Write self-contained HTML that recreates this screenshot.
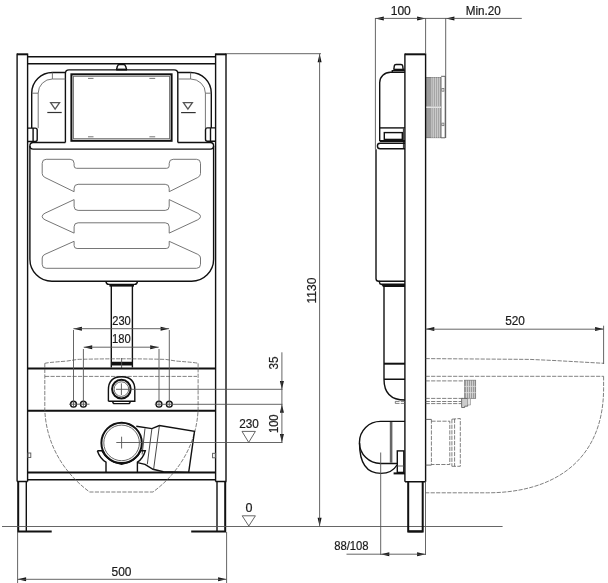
<!DOCTYPE html>
<html><head><meta charset="utf-8"><title>Drawing</title>
<style>
html,body{margin:0;padding:0;background:#fff;}
body{width:608px;height:583px;overflow:hidden;}
svg{display:block;will-change:transform;}
text{font-family:"Liberation Sans",sans-serif;font-size:12px;fill:#1a1a1a;stroke:#1a1a1a;stroke-width:0.2;}
.k{stroke:#111;fill:none;stroke-width:1.4;}
.kk{stroke:#111;fill:none;stroke-width:2;}
.t{stroke:#555;fill:none;stroke-width:0.9;}
.g{stroke:#666;fill:none;stroke-width:0.9;}
.d{stroke:#555;fill:none;stroke-width:0.75;stroke-dasharray:4.2 1.3;}
.ar{fill:#111;stroke:none;}
</style></head>
<body>
<svg width="608" height="583" viewBox="0 0 608 583">
<!-- ================= FRONT VIEW ================= -->
<g id="front">
<!-- posts -->
<path class="k" d="M17.1,53.5V481.5M27.6,53.5V481.5M17,481.5H27.6"/>
<path class="kk" d="M17,54.3H27.5"/>
<path class="k" d="M215.6,53.5V481.5M226,53.5V481.5M215.5,481.5H226.5"/>
<path class="kk" d="M215.5,54.3H226.5"/>
<!-- legs -->
<path class="kk" d="M18.2,481.5V531.5H51.7"/>
<path class="k" d="M26.3,481.5V531" stroke-width="1.2"/>
<path class="kk" d="M225.2,481.5V531.5H191.2"/>
<path class="k" d="M217,481.5V531" stroke-width="1.2"/>
<!-- top bar -->
<path class="k" d="M27,56.7H215.8M27,63.7H215.8"/>
<!-- bump -->
<path class="k" d="M116.4,69.9L117.4,66.3Q117.8,64.5 119.6,64.5H123.4Q125.2,64.5 125.6,66.3L126.8,69.9" stroke-width="1.6"/>
<path class="kk" d="M116.2,69.6H127" stroke-width="1.4"/>
<!-- flush plate frame -->
<path class="k" d="M65.4,142.5V73.5Q65.4,69.9 69,69.9H174.1Q177.8,69.9 177.8,73.5V142.5"/>
<rect class="kk" x="71.4" y="74.3" width="100.2" height="66.5" stroke-width="1.7"/>
<rect class="g" x="73.4" y="76.3" width="96.2" height="62.4" stroke-width="1"/>
<path class="g" d="M88,78.4H93.5M149.4,78.4H155.2M88,136.8H93.5M149.4,136.8H155.2" stroke-width="1.3"/>
<!-- left L pipe -->
<path class="k" d="M31.7,128.1V93.2A20.7,20.7 0 0 1 52.4,72.5H65.4"/>
<path class="g" d="M38.2,128.1V93.2A14.2,14.2 0 0 1 52.4,79H65.4M52.4,72.5V79M31.7,93.2H38.2"/>
<path class="k" d="M27.6,128.1H35.2Q37.2,128.1 37.2,130.1V139.5Q37.2,141.5 35.2,141.5H27.6M33.1,128.1V141.5" stroke-width="1.2"/>
<!-- right L pipe -->
<path class="k" d="M211.3,128V93.2A20.7,20.7 0 0 0 190.6,72.5H177.8"/>
<path class="g" d="M205.4,128V93.2A14.8,14.2 0 0 0 190.6,79H177.8M190.6,72.5V79M211.3,93.2H205.4"/>
<path class="k" d="M215.3,127.9H207.5Q205.5,127.9 205.5,129.9V139.2Q205.5,141.2 207.5,141.2H215.3M210.5,127.9V141.2" stroke-width="1.2"/>
<!-- triangles -->
<path d="M50.6,102.7H59.6L55.1,109.2Z" stroke="#555" fill="none" stroke-width="1.3"/>
<path d="M47.3,112.5H61.7" stroke="#333" stroke-width="1.2"/>
<path d="M183.4,102.7H192.4L187.9,109.2Z" stroke="#555" fill="none" stroke-width="1.3"/>
<path d="M181.1,112.6H195.7" stroke="#333" stroke-width="1.2"/>
<!-- bar & cistern -->
<path class="k" d="M65.4,142.5H33.2A3.3,3.3 0 0 0 33.2,149.1H210.3A3.3,3.3 0 0 0 210.3,142.5H177.8"/>
<path class="k" d="M29.9,146V259.3A22,22 0 0 0 51.9,281.3H191.6A22,22 0 0 0 213.6,259.3V146" stroke-width="1.5"/>
<!-- arrows in cistern -->
<g class="g">
<path d="M74.1,191.7L45,177.5Q42.2,176.2 42.2,173.5V163.3Q42.2,159.3 46.2,159.3H70.1Q74.1,159.3 74.1,163.3V165.8Q74.1,168.3 76.6,168.3H166.7Q169.2,168.3 169.2,165.8V163.3Q169.2,159.3 173.2,159.3H196.5Q200.5,159.3 200.5,163.3V173.5Q200.5,176.2 197.7,177.5L169.2,191.7"/>
<path d="M74.1,191.7V188.3Q74.1,184.3 78.1,184.3H165.2Q169.2,184.3 169.2,188.3V191.7"/>
<path d="M74.1,199.6V206.4Q74.1,210.4 78.1,210.4H165.2Q169.2,210.4 169.2,206.4V199.6"/>
<path d="M74.1,199.6L45,213.2Q42.2,214.5 42.2,216.5Q42.2,218.5 45,219.8L74.1,233.1"/>
<path d="M169.2,199.6L197.7,213.2Q200.5,214.5 200.5,216.5Q200.5,218.5 197.7,219.8L169.2,233.1"/>
<path d="M74.1,233.1V226.8Q74.1,222.8 78.1,222.8H165.2Q169.2,222.8 169.2,226.8V233.1"/>
<path d="M74.1,241.3V245.5Q74.1,248.5 77.1,248.5H166.2Q169.2,248.5 169.2,245.5V241.3"/>
<path d="M74.1,241.3L45,254.3Q42.2,255.5 42.2,258V264.3Q42.2,268.3 46.2,268.3H196.5Q200.5,268.3 200.5,264.3V258Q200.5,255.5 197.7,254.3L169.2,241.3"/>
</g>
<!-- pipe -->
<path class="k" d="M105.9,281.3Q106.3,284.2 108.8,284.4H134.6Q137.1,284.2 137.5,281.3" stroke-width="1.2"/>
<path class="kk" d="M109.4,285.6H134" stroke-width="1.6"/>
<path class="k" d="M111.3,285.4V367.5M132.4,285.4V367.5"/>
<path class="kk" d="M111.3,362.7H132.4M111.3,364.6H132.4" stroke-width="1.3"/>
<path class="t" d="M121.6,358V368.5"/>
<!-- cross bars -->
<path class="kk" d="M27.6,368.5H215.6M27.6,410.8H215.6" stroke-width="1.6"/>
<path class="kk" d="M27.6,472.5H215.6" stroke-width="1.5"/>
<path class="k" d="M27.6,479.8H215.6" stroke-width="1.6"/>
<!-- small rects on posts -->
<rect class="t" x="27.8" y="453" width="3" height="4.5"/>
<rect class="t" x="212.6" y="453.3" width="3" height="4.5"/>
<!-- dashed bowl outline (front) -->
<path class="d" d="M44.8,363.4Q46,362.6 66.7,361.1L77.5,359.4Q100,358.8 121.6,358.8Q143,358.8 165.7,359.4L176.5,361.1Q197,362.6 198.3,363.4"/>
<path class="d" d="M44.8,363.4V410C46,440 60,470 89.6,492H153C182.6,470 196.6,440 198.1,410V363.4"/>
<path class="d" d="M45,376.4H197"/>
<!-- flush connector -->
<path class="k" d="M108.4,401.2V390Q108.4,376.8 121.6,376.8Q134.8,376.8 134.8,390V401.2H108.4" stroke-width="1.3"/>
<circle class="kk" cx="121.4" cy="389.1" r="9.3" stroke-width="1.8"/>
<circle class="t" cx="121.4" cy="389.1" r="7.3"/>
<path class="k" d="M112.7,401.2Q112.7,403.6 114.5,403.6H128.4Q130.2,403.6 130.2,401.2" stroke-width="1.2"/>
<path class="t" d="M121.4,383.4V395M116,389.3H282.5"/>
<!-- bolts -->
<g class="k" stroke-width="1.1">
<circle cx="73.5" cy="404.2" r="2.9"/><circle cx="83.4" cy="404.2" r="2.9"/>
<circle cx="159" cy="404.2" r="2.9"/><circle cx="169.3" cy="404.2" r="2.9"/>
</g>
<path class="t" d="M69,404.2H89.5M154.8,404.3H282.5M73.5,330V408M83.4,349V408M159,349V408M169.3,330V408" stroke-width="0.8"/>
<!-- waste outlet -->
<path class="k" d="M136.3,426.3L151.9,428.6L159.4,425.5L194.5,431.3L188.7,472.4M137.5,462.6L145,464.3L153,469.3L163.4,471.8L188.7,472.4" stroke-width="1.5"/>
<path d="M145,428.4L142.1,454.5M151.9,428.6L147.3,464.3M159.4,425.5L153.6,469.5" stroke="#333" stroke-width="0.9" fill="none"/>
<circle class="kk" cx="121.6" cy="442.9" r="20.2" stroke-width="2.2"/>
<circle class="t" cx="121.6" cy="442.9" r="17.8"/>
<path class="t" d="M121.6,436.7V448.5M116.3,442.5H282.5"/>
<path class="k" d="M97.3,450.7H101.8Q107,461.5 121.6,464.2Q136.2,461.5 140.9,450.7H145.3Q143,458.5 137.4,462.2V472.5M97.3,450.7Q100,458.5 106,462.2V472.5" stroke-width="1.3"/>
</g>
<!-- ================= FRONT DIMENSIONS ================= -->
<g id="fdims">
<path class="ar" d="M17.6,579.3L26.10,577.30V581.30Z M226.6,579.3L218.10,577.30V581.30Z M73.4,328.7L81.90,326.70V330.70Z M169.1,328.7L160.60,326.70V330.70Z M83.7,347.2L92.20,345.20V349.20Z M158.7,347.2L150.20,345.20V349.20Z M281.9,389.4L279.90,380.90H283.90Z M281.9,404.3L279.90,412.80H283.90Z M281.9,442.5L279.90,434.00H283.90Z M319.6,53.8L317.60,62.30H321.60Z M319.6,526.3L317.60,517.80H321.60Z"/>
<!-- floor line -->
<path class="t" d="M2,526.5H502.6"/>
<!-- 500 -->
<path class="t" d="M17.6,532V583M226.6,532V583M17.6,579.3H226.6"/>
<text x="111.50" y="575.58" textLength="19.93" lengthAdjust="spacingAndGlyphs">500</text>
<!-- 230 / 180 -->
<path class="t" d="M73.4,328.7H169.1M83.7,347.2H158.7"/>
<text x="112.22" y="324.68" textLength="18.57" lengthAdjust="spacingAndGlyphs">230</text>
<text x="112.08" y="343.48" textLength="18.71" lengthAdjust="spacingAndGlyphs">180</text>
<!-- right side level dims -->
<path class="t" d="M281.9,352.3V442.6"/>
<text transform="translate(278.2,369.5) rotate(-90)" textLength="13.06" lengthAdjust="spacingAndGlyphs">35</text>
<text transform="translate(278.2,433.1) rotate(-90)" textLength="18.71" lengthAdjust="spacingAndGlyphs">100</text>
<text x="239.19" y="427.68" textLength="19.63" lengthAdjust="spacingAndGlyphs">230</text>
<path class="t" d="M242,431.4H255.4L248.7,442.4Z"/>
<text x="245.48" y="511.57" textLength="6.98" lengthAdjust="spacingAndGlyphs">0</text>
<path class="t" d="M242.2,515.8H255.4L248.8,526Z"/>
<!-- 1130 -->
<path class="t" d="M226.5,53.7H321M319.6,53.7V526.5"/>
<text transform="translate(315.9,303.6) rotate(-90)" textLength="26.02" lengthAdjust="spacingAndGlyphs">1130</text>
</g>
<!-- ================= SIDE VIEW ================= -->
<g id="side">
<!-- frame -->
<path class="k" d="M404.9,53.5V481.7M425.6,53.5V481.7M405,481.7H425.6"/>
<path class="kk" d="M405,54.3H425.6"/>
<path class="kk" d="M408.2,481.7V531.6H422.7V481.7" stroke-width="1.5"/>
<path class="kk" d="M408.2,531.4H422.7" stroke-width="2.2"/>
<!-- cistern upper -->
<path class="k" d="M405,72.3H390.5A10.8,10.4 0 0 0 379.7,82.7V141"/>
<path class="k" d="M393.9,69L394.3,65.9Q394.5,64.5 396,64.5H401Q402.5,64.5 402.7,65.9L403.1,69" stroke-width="1.3"/>
<path class="kk" d="M393.3,69.7H404.6" stroke-width="1.7"/>
<path class="k" d="M392.3,72.3V70.6H404.8" stroke-width="1"/>
<path class="k" d="M379.7,127.9H405"/>
<path d="M403.7,127.9V149" stroke="#444" stroke-width="1.6"/>
<rect class="k" x="384.3" y="132.6" width="18" height="6.8" stroke-width="1.2"/>
<path class="kk" d="M379.7,141H405" stroke-width="1.8"/>
<path class="k" d="M405,143.2H380.1Q377.4,143.2 377.4,145.9Q377.4,148.7 380.1,148.7H405" stroke-width="1.2"/>
<!-- cistern body -->
<path class="k" d="M376,149.3V278.4Q376,281.2 378.8,281.2H405" stroke-width="1.3"/>
<path class="t" d="M375.4,18V149.3"/>
<path class="k" d="M378.8,281.2Q379.6,281.6 379.6,282.8Q379.8,284.2 381.2,284.2H405M381.2,284.2Q382.6,284.4 382.8,285.4Q383.1,286.2 384,286.2H405M382.6,285.1H405" stroke-width="1.1"/>
<!-- flush pipe -->
<path class="k" d="M384,286V379.2Q384,400 405,400M384,379.2H405"/>
<path class="kk" d="M384,363.7H405" stroke-width="2.9"/>
<path class="d" d="M395.3,401.4H405M395.3,403.4H405M395.3,401.4V403.4" stroke-width="0.8"/>
<!-- waste elbow -->
<path class="k" d="M405,421.4H380.5A21,21 0 0 0 380.5,463.5H397.3"/>
<path class="k" d="M359.5,443Q359.5,473.4 381,473.4Q392,473.4 397,465"/>
<path d="M391.1,422V462.8" stroke="#666" stroke-width="2.6"/>
<path class="t" d="M380.7,452.5V555"/>
<rect class="k" x="397.3" y="450.9" width="6.5" height="21.5" stroke-width="1.1"/>
<path class="t" d="M397.3,466H403.8"/>
<path class="kk" d="M393.6,473.4H405" stroke-width="1.8"/>
<!-- wall bracket -->
<path class="t" d="M425.6,18V53.5M445.7,18V138"/>
<rect x="426.3" y="77.4" width="14.8" height="60.4" fill="#9c9c9c" stroke="#555" stroke-width="0.6"/>
<path d="M426.3,107.2H441.1" stroke="#f4f4f4" stroke-width="1.2"/>
<path d="M431.9,77.4V106.6M433.7,77.4V106.6M435.6,77.4V106.6M437.4,77.4V106.6M439.3,77.4V106.6M431.9,107.8V137.8M433.7,107.8V137.8M435.6,107.8V137.8M437.4,107.8V137.8M439.3,107.8V137.8" stroke="#ddd" stroke-width="0.8"/>
<path class="t" d="M441.1,76.3H445.2V137.8H441.1"/>
<rect x="441.9" y="88.6" width="2" height="2.6" fill="none" stroke="#666" stroke-width="0.7"/>
<rect x="441.9" y="123.1" width="2" height="2.6" fill="none" stroke="#666" stroke-width="0.7"/>
<!-- toilet bowl (dashed) -->
<path class="d" d="M425.6,358.6L530,359.4L556,360.6L603.6,363.3"/>
<path class="d" d="M425.6,376.3H603.6"/>
<path class="d" d="M603.6,376.3V388.2C603.6,461.1 553.2,492.8 487.6,492.8H425.6"/>
<path class="d" d="M425.6,380.9H464.4" stroke-width="1.3" stroke="#777"/>
<path class="d" d="M425.6,398.4H464.4M425.6,401.5H461.6M425.6,403.6H461.6"/>
<rect x="464.4" y="380.2" width="11.3" height="18.2" fill="#cfcfcf" stroke="#777" stroke-width="0.7"/>
<path d="M465.5,380.2V398.4M467.5,380.2V398.4M469.5,380.2V398.4M471.5,380.2V398.4M473.5,380.2V398.4M475.3,380.2V398.4" stroke="#777" stroke-width="0.6"/>
<path d="M464.4,386.4H475.7M464.4,392.6H475.7" stroke="#ddd" stroke-width="0.8"/>
<path d="M461.6,398.4H467.7V406.2H464.7V407.5H461.6Z" fill="#ccc" stroke="#555" stroke-width="0.8"/>
<path d="M467.7,398.4H470.5V405H467.7" fill="#e4e4e4" stroke="#888" stroke-width="0.6"/>
<!-- waste pipe (dashed) -->
<path class="t" d="M425.6,419.4H431.4M425.6,465.1H431.4"/>
<path class="d" d="M431.4,419.4V465.1M431.4,421.2H449.8V464.5H431.4"/>
<path class="d" d="M451.9,419.2L460.3,418.5V466.3H451.9"/>
<path class="d" d="M451.9,419.2V466.3M454.6,418.9V466.3" stroke-width="0.7"/>
<path class="t" d="M425.5,481.7V555"/>
<!-- extension for 520 -->
<path class="t" d="M603.6,325.7V364"/>
</g>
<!-- ================= SIDE DIMENSIONS ================= -->
<g id="sdims">
<path class="ar" d="M375.3,18.4L383.80,16.40V20.40Z M425.6,18.4L417.10,16.40V20.40Z M445.9,18.4L454.40,16.40V20.40Z M425.8,329L434.30,327.00V331.00Z M603.6,329L595.10,327.00V331.00Z M380.8,554.2L389.30,552.20V556.20Z M425.6,554.2L417.10,552.20V556.20Z"/>
<path class="t" d="M375.3,18.4H521.8"/>
<text x="390.72" y="15" textLength="20.11" lengthAdjust="spacingAndGlyphs">100</text>
<text x="465.73" y="15" textLength="35.09" lengthAdjust="spacingAndGlyphs">Min.20</text>
<path class="t" d="M425.6,329.2H603.6"/>
<text x="505.21" y="324.68" textLength="19.71" lengthAdjust="spacingAndGlyphs">520</text>
<path class="t" d="M346.5,554.2H425.5"/>
<text x="334.13" y="550.27" textLength="34.51" lengthAdjust="spacingAndGlyphs">88/108</text>
</g>
</svg>
</body></html>
